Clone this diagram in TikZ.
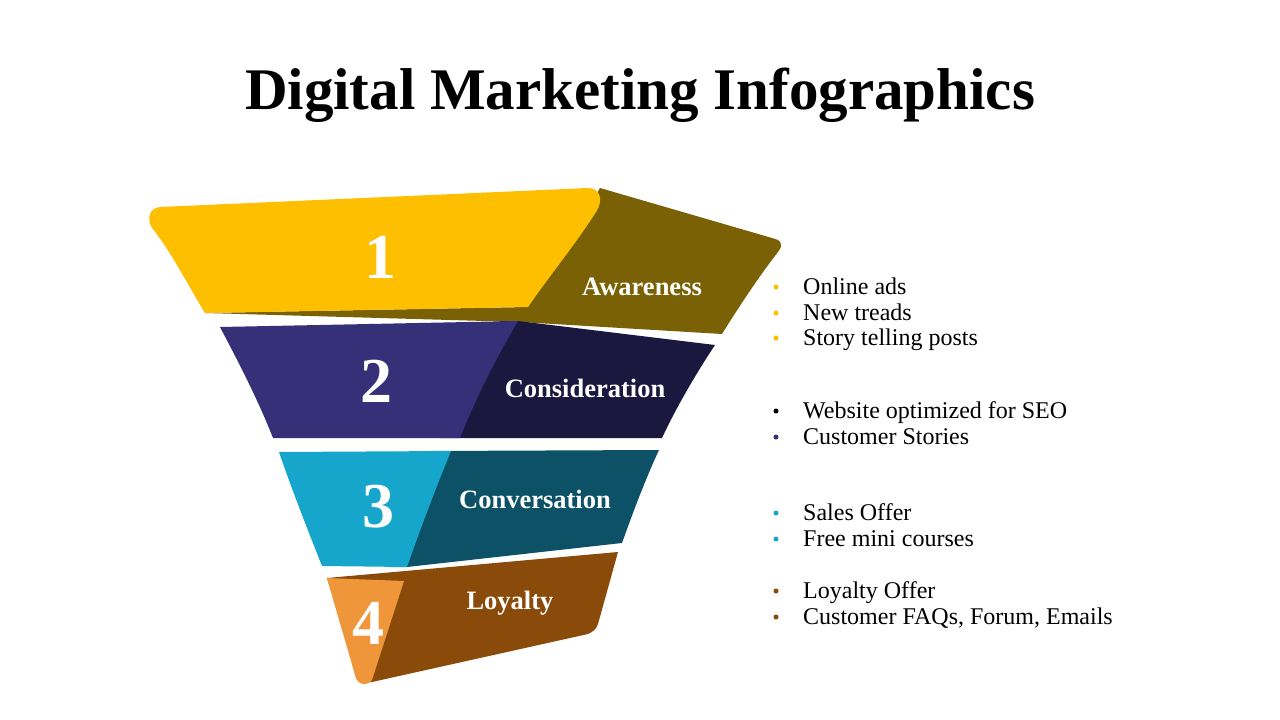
\documentclass[tikz,border=0pt]{standalone}
\usepackage{fontspec}
\setmainfont{Liberation Serif}
\definecolor{cYel}{HTML}{FDBF00}
\definecolor{cOli}{HTML}{7A6106}
\definecolor{cPur}{HTML}{363078}
\definecolor{cNav}{HTML}{1B1840}
\definecolor{cCya}{HTML}{17A6CB}
\definecolor{cTea}{HTML}{0C5166}
\definecolor{cOra}{HTML}{F0963A}
\definecolor{cBro}{HTML}{8A4B0A}
\begin{document}
\begin{tikzpicture}[x=1pt,y=-1pt,
  num/.style={text=white,font=\fontsize{64}{64}\selectfont\bfseries,inner sep=0pt},
  lab/.style={text=white,font=\fontsize{26.5}{26}\selectfont\bfseries,inner sep=0pt},
  itm/.style={anchor=base west,font=\fontsize{24}{24}\selectfont,inner sep=0pt,text=black},
  dotstyle/.style={circle,inner sep=0pt,minimum size=5pt}]
\useasboundingbox (0,0) rectangle (1280,720);
\fill[white] (0,0) rectangle (1280,720);
\node[font=\fontsize{59}{60}\selectfont\bfseries,inner sep=0pt] (title) at (640,95) {Digital Marketing Infographics};
% layer 1
\fill[cOli] (205,313) -- (520,322) -- (722,334) .. controls (740,305) and (760,275) .. (778,252) .. controls (784,244) and (781,240) .. (772,238) -- (600,188) -- (528,307) -- cycle;
\fill[cYel] (160,207) -- (588,188) .. controls (600,188) and (604,200) .. (596,212) .. controls (575,245) and (550,275) .. (528,307) -- (205,313) .. controls (185,280) and (170,250) .. (152,228) .. controls (146,218) and (150,208) .. (160,207) -- cycle;
% layer 2
\fill[cNav] (500,321) -- (518,321) -- (715,345) .. controls (695,375) and (675,410) .. (662,438) -- (440,438) -- cycle;
\fill[cPur] (220,327) -- (518,321) .. controls (495,360) and (475,400) .. (460,438) -- (273,438) .. controls (258,400) and (240,365) .. (220,327) -- cycle;
% layer 3
\fill[cTea] (430,451) -- (659,450) .. controls (645,480) and (632,515) .. (622,543) -- (407,567) -- (390,567) -- cycle;
\fill[cCya] (279,452) -- (451,451) .. controls (435,490) and (420,530) .. (407,567) -- (322,566) .. controls (307,528) and (292,490) .. (279,452) -- cycle;
% layer 4
\fill[cBro] (327,578) -- (618,552) -- (598,624) .. controls (596,630) and (592,632) .. (588,634) -- (372,682) -- (360,682) -- cycle;
\fill[cOra] (327,578) -- (404,581) -- (372,680) .. controls (368,686) and (357,686) .. (355,675) .. controls (345,640) and (336,610) .. (327,578) -- cycle;
% labels
\node[num] (n1) at (380,257) {1};
\node[lab] (l1) at (642,287) {Awareness};
\node[num] (n2) at (376,381) {2};
\node[lab] (l2) at (585,388) {Consideration};
\node[num] (n3) at (378,507) {3};
\node[lab] (l3) at (535,499) {Conversation};
\node[num] (n4) at (368,623) {4};
\node[lab] (l4) at (510,603) {Loyalty};
% bullets
\foreach \y/\c/\t [count=\i] in {287/cYel/Online ads, 313/cYel/New treads, 338/cYel/Story telling posts, 411/black/Website optimized for SEO, 437/cPur/Customer Stories, 513/cCya/Sales Offer, 539/cCya/Free mini courses, 591/cBro/Loyalty Offer, 617/cBro/{Customer FAQs, Forum, Emails}}{
  \node[dotstyle,fill=\c] (d\i) at (776,\y) {};
  \node[itm] (t\i) at (803,\y+7) {\t};
}
\end{tikzpicture}
\end{document}
